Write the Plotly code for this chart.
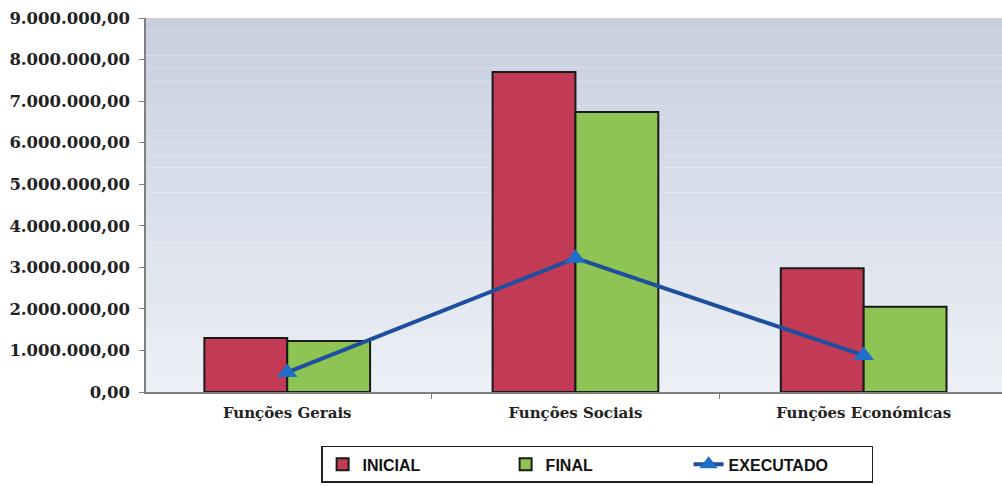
import plotly.graph_objects as go

categories = ["Funções Gerais", "Funções Sociais", "Funções Económicas"]
inicial = [1300000, 7700000, 2980000]
final = [1230000, 6740000, 2050000]
executado = [470000, 3220000, 880000]
y_ticks = [0, 1000000, 2000000, 3000000, 4000000, 5000000, 6000000, 7000000, 8000000, 9000000]

fig = go.Figure()
fig.add_trace(go.Bar(name="INICIAL", x=categories, y=inicial,
                     marker=dict(color="#c33a55", line=dict(color="#1a1a1a", width=2))))
fig.add_trace(go.Bar(name="FINAL", x=categories, y=final,
                     marker=dict(color="#8ec453", line=dict(color="#1a1a1a", width=2))))
fig.add_trace(go.Scatter(name="EXECUTADO", x=categories, y=executado, mode="lines+markers",
                         line=dict(color="#1d4f9e", width=4),
                         marker=dict(symbol="triangle-up", size=18, color="#1f6fc8")))

# background gradient bands
shapes = []
n = 30
top = (200, 208, 224)
bot = (236, 240, 246)
for i in range(n):
    t = i / (n - 1)
    c = tuple(int(top[k] + (bot[k] - top[k]) * t) for k in range(3))
    shapes.append(dict(type="rect", xref="paper", yref="paper", x0=0, x1=1,
                       y0=1 - (i + 1) / n, y1=1 - i / n, layer="below",
                       fillcolor="rgb(%d,%d,%d)" % c, line=dict(width=0)))

fig.update_layout(
    width=1002, height=486,
    margin=dict(l=146, r=0, t=18, b=94, autoexpand=False),
    paper_bgcolor="white", plot_bgcolor="rgba(0,0,0,0)",
    barmode="group", bargap=0.425, bargroupgap=0,
    separators=",.",
    shapes=shapes,
    showlegend=True,
    legend=dict(orientation="h", x=0.527, xref="paper", xanchor="center",
                y=-0.243, yanchor="bottom", bordercolor="#222", borderwidth=1.5,
                font=dict(family="Liberation Sans", size=16, color="#111", weight="bold"),
                bgcolor="white", traceorder="normal", entrywidth=138,
                entrywidthmode="pixels"),
    font=dict(family="DejaVu Serif", color="#222"),
)
fig.update_yaxes(range=[0, 9000000], tickvals=y_ticks, tickformat=",.2f",
                 showgrid=False, showline=True, linecolor="#808080", linewidth=1.5,
                 ticks="outside", ticklen=5, tickcolor="#808080", automargin=False,
                 ticklabelstandoff=6,
                 tickfont=dict(family="DejaVu Serif", size=16.5, color="#222", weight="bold"),
                 zeroline=False)
fig.update_xaxes(range=[-0.49, 2.48], showgrid=False, showline=True, linecolor="#808080",
                 linewidth=1.5, ticks="outside", tickson="boundaries", ticklen=5,
                 tickcolor="#808080", automargin=False, ticklabelstandoff=6,
                 tickfont=dict(family="DejaVu Serif", size=15, color="#222", weight="bold"))

fig.write_html("out.html", post_script="document.body.style.margin='0';",
               config={"displayModeBar": False})
